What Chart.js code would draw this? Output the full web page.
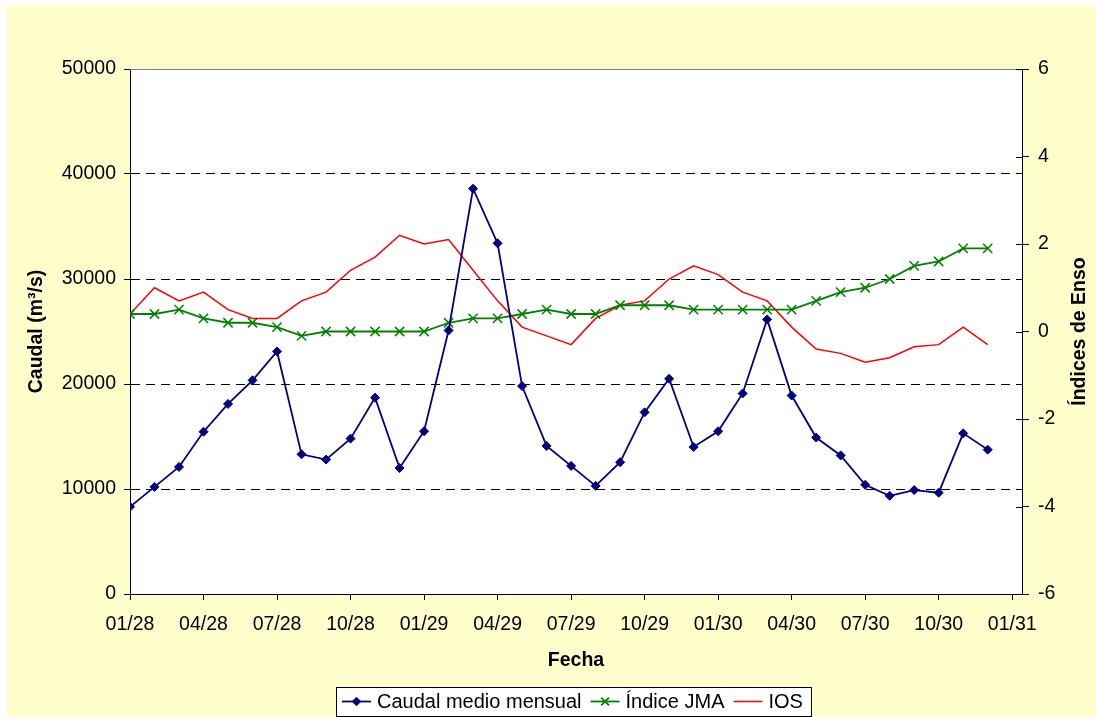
<!DOCTYPE html>
<html>
<head>
<meta charset="utf-8">
<script src="https://cdn.jsdelivr.net/npm/chart.js@4.4.0/dist/chart.umd.min.js"></script>
<style>
  html, body { margin: 0; padding: 0; background: #ffffff; }
  #wrap { width: 1096px; height: 717px; }
</style>
</head>
<body>
<div id="wrap"><canvas id="caudalChart" width="1096" height="717"></canvas></div>
<script>
// etiquetas del eje de fechas (cada 3 meses, desde 01/28)
var fechaLabels = ['01/28', '04/28', '07/28', '10/28', '01/29', '04/29', '07/29',
                   '10/29', '01/30', '04/30', '07/30', '10/30', '01/31'];

// caudal medio mensual (m3/s), ene 1928 - dic 1930
var caudal = [8300, 10200, 12100, 15450, 18100, 20350, 23100, 13300, 12800, 14800, 18700, 12000,
              15500, 25100, 38600, 33400, 19800, 14100, 12200, 10300, 12550, 17300, 20500, 14000,
              15500, 19100, 26150, 18900, 14900, 13200, 10400, 9350, 9900, 9650, 15300, 13750];

// índice JMA
var indiceJMA = [0.4, 0.4, 0.5, 0.3, 0.2, 0.2, 0.1, -0.1, 0.0, 0.0, 0.0, 0.0,
                 0.0, 0.2, 0.3, 0.3, 0.4, 0.5, 0.4, 0.4, 0.6, 0.6, 0.6, 0.5,
                 0.5, 0.5, 0.5, 0.5, 0.7, 0.9, 1.0, 1.2, 1.5, 1.6, 1.9, 1.9];

// índice de oscilación del sur
var ios = [0.4, 1.0, 0.7, 0.9, 0.5, 0.3, 0.3, 0.7, 0.9, 1.4, 1.7, 2.2,
           2.0, 2.1, 1.4, 0.7, 0.1, -0.1, -0.3, 0.3, 0.6, 0.7, 1.2, 1.5,
           1.3, 0.9, 0.7, 0.1, -0.4, -0.5, -0.7, -0.6, -0.35, -0.3, 0.1, -0.3];

var FONT = 'Liberation Sans, Arial, sans-serif';

function toPoints(serie) {
    return serie.map(function(v, i) { return {x: i, y: v}; });
}

// fondo amarillo, área de trazado blanca y borde superior gris
var fondoPlugin = {
    id: 'fondo',
    beforeDraw: function(chart) {
        var ctx = chart.ctx, a = chart.chartArea;
        ctx.save();
        ctx.fillStyle = '#ffffcc';
        ctx.fillRect(7, 5, chart.width - 7, chart.height - 5);
        ctx.fillStyle = '#ffffff';
        ctx.fillRect(a.left, a.top, a.right - a.left, a.bottom - a.top);
        ctx.restore();
    },
    afterDraw: function(chart) {
        var ctx = chart.ctx, a = chart.chartArea;
        ctx.save();
        ctx.strokeStyle = '#808080';
        ctx.lineWidth = 1;
        ctx.beginPath();
        ctx.moveTo(a.left, a.top + 0.5);
        ctx.lineTo(a.right, a.top + 0.5);
        ctx.stroke();

        // ticks del eje derecho hacia adentro
        var y2 = chart.scales.y2;
        ctx.strokeStyle = '#000';
        y2.ticks.forEach(function(t) {
            var py = Math.round(y2.getPixelForValue(t.value)) + 0.5;
            ctx.beginPath();
            ctx.moveTo(a.right - 6, py);
            ctx.lineTo(a.right, py);
            ctx.stroke();
        });

        // título del eje derecho, de abajo hacia arriba
        ctx.fillStyle = '#000';
        ctx.font = 'bold 19.5px ' + FONT;
        ctx.textAlign = 'center';
        ctx.textBaseline = 'middle';
        ctx.translate(1080, (a.top + a.bottom) / 2);
        ctx.rotate(-Math.PI / 2);
        ctx.fillText('Índices de Enso', 0, 0);
        ctx.restore();
    }
};

// leyenda con recuadro, línea y marcador
var leyendaPlugin = {
    id: 'leyenda',
    afterDraw: function(chart) {
        var ctx = chart.ctx;
        var items = chart.data.datasets;
        var lineLen = 29, gapText = 6, gapItem = 9, padL = 6, padR = 8;
        var top = 687, h = 29, cy = top + h / 2;
        ctx.save();
        ctx.font = '20px ' + FONT;
        var total = padL + padR;
        items.forEach(function(ds, i) {
            total += lineLen + gapText + ctx.measureText(ds.label).width;
            if (i < items.length - 1) total += gapItem;
        });
        var left = Math.round(573 - total / 2);
        ctx.fillStyle = '#ffffff';
        ctx.fillRect(left, top, total, h);
        ctx.strokeStyle = '#000';
        ctx.lineWidth = 1;
        ctx.strokeRect(left + 0.5, top + 0.5, total, h);

        var x = left + padL;
        items.forEach(function(ds) {
            ctx.strokeStyle = ds.borderColor;
            ctx.lineWidth = ds.borderWidth;
            ctx.beginPath();
            ctx.moveTo(x, cy);
            ctx.lineTo(x + lineLen, cy);
            ctx.stroke();
            if (ds.pointRadius > 0) {
                ctx.fillStyle = ds.backgroundColor;
                Chart.helpers.drawPoint(ctx, {
                    pointStyle: ds.pointStyle,
                    radius: ds.pointRadius - 1,
                    borderWidth: ds.pointBorderWidth,
                    rotation: 0
                }, x + lineLen / 2, cy);
            }
            x += lineLen + gapText;
            ctx.fillStyle = '#000';
            ctx.textAlign = 'left';
            ctx.textBaseline = 'middle';
            ctx.fillText(ds.label, x, cy + 1);
            x += ctx.measureText(ds.label).width + gapItem;
        });
        ctx.restore();
    }
};

var ctxCaudal = document.getElementById('caudalChart');

var caudalChart = new Chart(ctxCaudal, {
    type: 'line',
    data: {
        datasets: [
            {
                label: 'Caudal medio mensual',
                data: toPoints(caudal),
                yAxisID: 'y',
                borderColor: '#000080',
                backgroundColor: '#000080',
                borderWidth: 1.8,
                pointStyle: 'rectRot',
                pointRadius: 4.5,
                pointBorderWidth: 1,
                tension: 0
            },
            {
                label: 'Índice JMA',
                data: toPoints(indiceJMA),
                yAxisID: 'y2',
                borderColor: '#008000',
                backgroundColor: '#008000',
                borderWidth: 1.8,
                pointStyle: 'crossRot',
                pointRadius: 6.5,
                pointBorderWidth: 1.5,
                tension: 0
            },
            {
                label: 'IOS',
                data: toPoints(ios),
                yAxisID: 'y2',
                borderColor: '#ff0000',
                backgroundColor: '#ff0000',
                borderWidth: 1.5,
                pointRadius: 0,
                tension: 0
            }
        ]
    },
    options: {
        responsive: false,
        animation: false,
        events: [],
        layout: { padding: { left: 7, top: 69, right: 0, bottom: 45 } },
        plugins: {
            legend: { display: false },
            tooltip: { enabled: false }
        },
        scales: {
            x: {
                type: 'linear',
                position: 'bottom',
                min: 0,
                max: 36.4,
                afterBuildTicks: function(scale) {
                    scale.ticks = fechaLabels.map(function(l, i) { return {value: i * 3}; });
                },
                afterFit: function(scale) { scale.height = 78; },
                grid: { drawOnChartArea: false, tickLength: 6, tickColor: '#000' },
                border: { color: '#000', width: 1 },
                ticks: {
                    autoSkip: false,
                    maxRotation: 0,
                    padding: 13,
                    color: '#000',
                    font: { family: FONT, size: 19.5 },
                    callback: function(v, i) { return fechaLabels[i]; }
                },
                title: {
                    display: true,
                    text: 'Fecha',
                    color: '#000',
                    font: { family: FONT, size: 19.5, weight: 'bold' },
                    padding: 0
                }
            },
            y: {
                position: 'left',
                min: 0,
                max: 50000,
                afterFit: function(scale) { scale.width = 123; },
                grid: {
                    tickLength: 6,
                    tickColor: '#000',
                    color: function(c) {
                        var v = c.tick ? c.tick.value : 0;
                        return (v > 0 && v < 50000) ? '#000' : 'rgba(0,0,0,0)';
                    }
                },
                border: { color: '#000', width: 1, dash: [9, 6] },
                ticks: {
                    stepSize: 10000,
                    padding: 8,
                    color: '#000',
                    font: { family: FONT, size: 19.5 },
                    callback: function(v) { return String(v); }
                },
                title: {
                    display: true,
                    text: 'Caudal (m³/s)',
                    color: '#000',
                    font: { family: FONT, size: 19.5, weight: 'bold' },
                    padding: 18
                }
            },
            y2: {
                position: 'right',
                min: -6,
                max: 6,
                afterFit: function(scale) { scale.width = 74; },
                grid: { drawOnChartArea: false, tickLength: 7, tickColor: '#000' },
                border: { color: '#000', width: 1 },
                ticks: {
                    stepSize: 2,
                    padding: 9,
                    color: '#000',
                    font: { family: FONT, size: 19.5 }
                }
            }
        }
    },
    plugins: [fondoPlugin, leyendaPlugin]
});
</script>
</body>
</html>
